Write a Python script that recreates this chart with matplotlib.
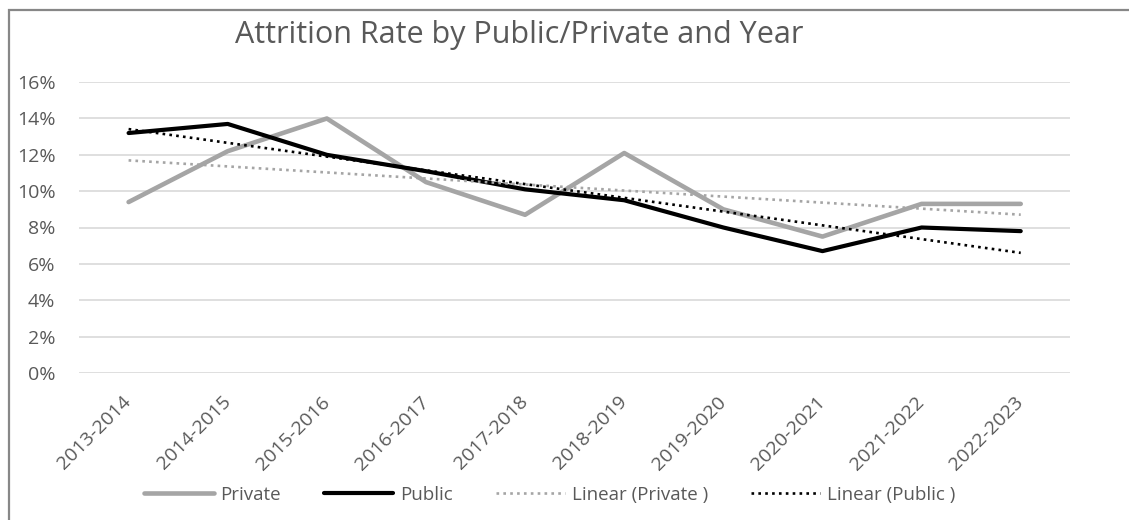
import numpy as np
import matplotlib.pyplot as plt
from matplotlib.patches import Rectangle
from matplotlib.ticker import PercentFormatter

plt.rcParams['font.family'] = ['Open Sans', 'DejaVu Sans']

# Attrition rate (%) by school year
years = ["2013-2014", "2014-2015", "2015-2016", "2016-2017", "2017-2018",
         "2018-2019", "2019-2020", "2020-2021", "2021-2022", "2022-2023"]
private = [9.4, 12.2, 14.0, 10.5, 8.7, 12.1, 9.0, 7.5, 9.3, 9.3]
public = [13.2, 13.7, 12.0, 11.1, 10.1, 9.5, 8.0, 6.7, 8.0, 7.8]

text_col = '#595959'
x = np.arange(len(years))

fig = plt.figure(figsize=(11.29, 5.2), dpi=100)
ax = fig.add_axes([0.070, 0.283, 0.878, 0.559])

ax.plot(x, private, color='#A5A5A5', lw=3.3, solid_capstyle='round', label='Private', zorder=3)
ax.plot(x, public, color='black', lw=3.0, solid_capstyle='round', label='Public', zorder=4)

# linear trend lines
for vals, col, lab in [(private, '#A5A5A5', 'Linear (Private )'),
                       (public, 'black', 'Linear (Public )')]:
    k, b = np.polyfit(x, vals, 1)
    ax.plot(x, k * x + b, color=col, lw=1.9, linestyle=(0, (1, 1.6)),
            label=lab, zorder=5)

ax.set_xlim(-0.5, len(years) - 0.5)
ax.set_ylim(0, 16)
ax.set_yticks(np.arange(0, 17, 2))
ax.yaxis.set_major_formatter(PercentFormatter(decimals=0))
ax.grid(axis='y', color='#D9D9D9', lw=1.2)
ax.set_axisbelow(True)
for s in ax.spines.values():
    s.set_visible(False)
ax.tick_params(length=0, labelsize=14, colors=text_col, pad=17)
ax.tick_params(axis='x', pad=19)
ax.set_xticks(x)
ax.set_xticklabels(years, rotation=45, ha='right', va='center', rotation_mode='anchor')

fig.text(0.46, 0.932, 'Attrition Rate by Public/Private and Year', ha='center',
         va='center', fontsize=22, color=text_col)

leg = fig.legend(loc='center', bbox_to_anchor=(0.487, 0.048), ncol=4, frameon=False,
                 fontsize=13.5, handlelength=3.7, columnspacing=2.3, handletextpad=0.35)
for t in leg.get_texts():
    t.set_color(text_col)

# chart border
fig.patches.append(Rectangle((9 / 1129, -0.1), 1.2, 1.1 - 10 / 520, transform=fig.transFigure,
                             fill=False, edgecolor='#878787', lw=1.6))

fig.savefig('out.png', dpi=100)
